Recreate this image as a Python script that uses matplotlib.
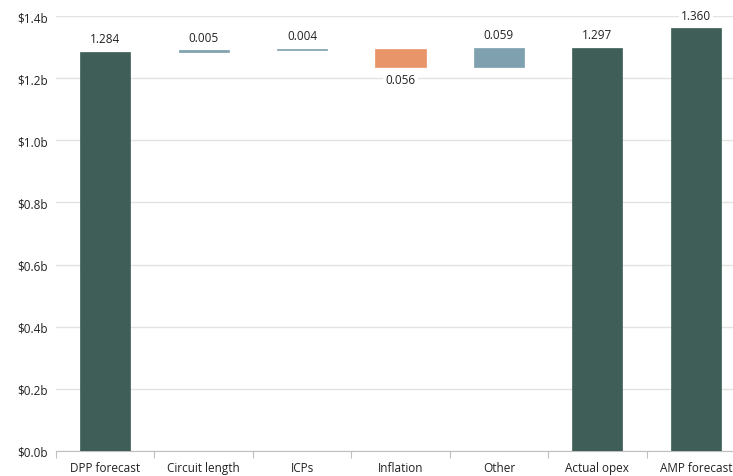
import numpy as np
import matplotlib.pyplot as plt

# waterfall data ($b)
categories = ['DPP forecast', 'Circuit length', 'ICPs', 'Inflation', 'Other', 'Actual opex', 'AMP forecast']
values = [1.284, 0.005, 0.004, -0.056, 0.059, 1.297, 1.360]
kinds = ['total', 'step', 'step', 'step', 'step', 'total', 'total']
labels = ['1.284', '0.005', '0.004', '0.056', '0.059', '1.297', '1.360']

green = '#3F5E57'
orange = '#E9956A'
bluegrey = '#7FA0AE'

plt.rcParams['font.family'] = ['Open Sans', 'DejaVu Sans']

fig = plt.figure(figsize=(7.33, 4.77), dpi=100)
ax = fig.add_axes([56/733, 25/477, 689/733, 435/477])

x = np.arange(len(categories))
running = 0.0
for i, (v, k) in enumerate(zip(values, kinds)):
    if k == 'total':
        bottom, height, col = 0, v, green
        running = v
    else:
        bottom = running if v > 0 else running + v
        height = abs(v)
        col = bluegrey if v > 0 else orange
        running += v
    ax.bar(x[i], height, bottom=bottom, width=0.51, color=col, edgecolor=col, linewidth=0.5, zorder=3)
    if v >= 0:
        ax.text(x[i], bottom + height + 0.022, labels[i], ha='center', va='bottom', fontsize=8.5,
                color='#222222', zorder=4, bbox=dict(facecolor='white', edgecolor='none', pad=1.5))
    else:
        ax.text(x[i], bottom - 0.022, labels[i], ha='center', va='top', fontsize=8.5,
                color='#222222', zorder=4, bbox=dict(facecolor='white', edgecolor='none', pad=1.5))

ax.set_xlim(-0.5, len(categories) - 0.5)
ax.set_ylim(0, 1.4)
yt = np.arange(0, 1.41, 0.2)
ax.set_yticks(yt)
ax.set_yticklabels(['$%.1fb' % t for t in yt], fontsize=8.5, color='#222222')
ax.tick_params(axis='y', length=0, pad=6)
ax.yaxis.grid(True, color='#e3e3e3', linewidth=1, zorder=0)
ax.set_axisbelow(True)

ax.set_xticks(x - 0.5)
ax.set_xticklabels([])
ax.set_xticks(x, minor=True)
ax.set_xticklabels(categories, minor=True, fontsize=8.5, color='#222222')
ax.tick_params(axis='x', which='major', length=5, color='#bfbfbf')
ax.tick_params(axis='x', which='minor', length=0, pad=7)

for s in ['top', 'right', 'left']:
    ax.spines[s].set_visible(False)
ax.spines['bottom'].set_color('#bfbfbf')

fig.savefig('out.png', dpi=100)
